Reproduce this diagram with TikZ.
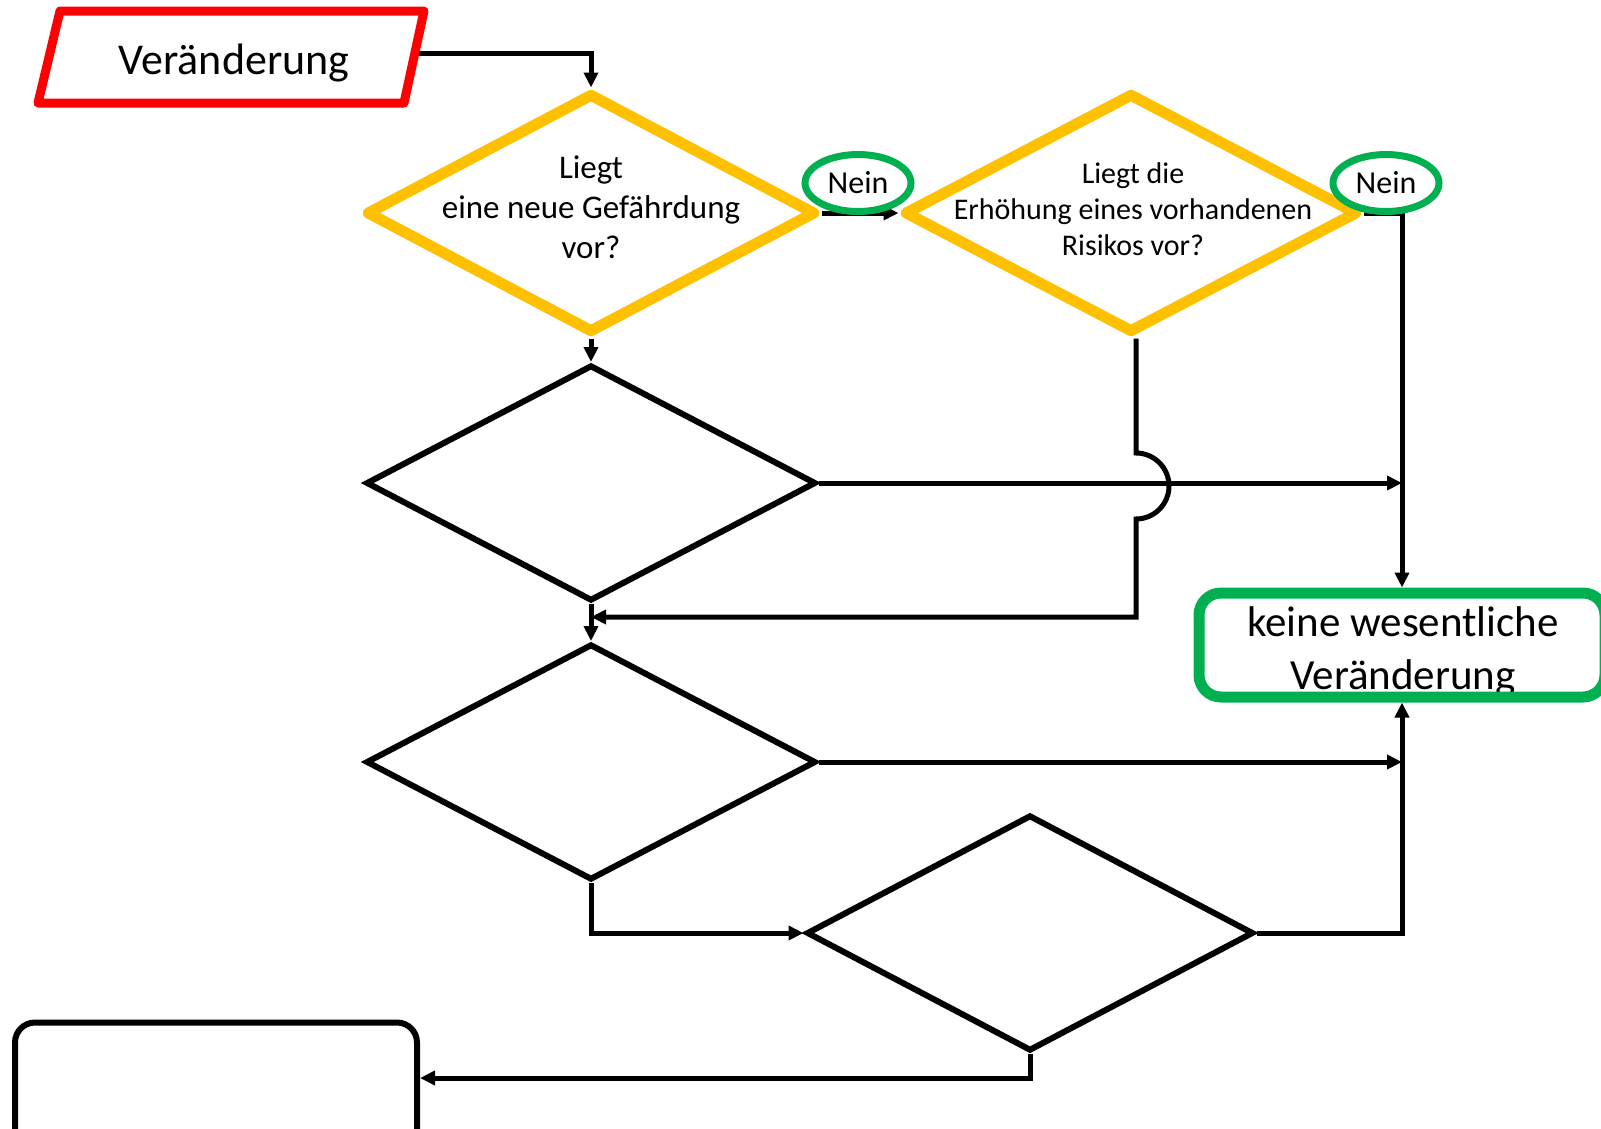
\documentclass[tikz,border=0pt]{standalone}
\usepackage{fontspec}
\setmainfont{Carlito}
\usetikzlibrary{shapes.geometric,arrows.meta}
\definecolor{myred}{RGB}{255,0,0}
\definecolor{mygold}{RGB}{255,192,0}
\definecolor{mygreen}{RGB}{0,176,80}
\begin{document}
\begin{tikzpicture}[x=1pt,y=-1pt,
  conn/.style={line width=5pt,-{Triangle[length=15pt,width=14pt]}},
  golddia/.style={diamond,draw=mygold,line width=11pt,line join=round,minimum width=450pt,minimum height=240pt,inner sep=0pt,fill=white},
  blackdia/.style={diamond,draw=black,line width=6pt,minimum width=450pt,minimum height=236pt,inner sep=0pt,fill=white},
  neinell/.style={ellipse,draw=mygreen,line width=7pt,minimum width=106pt,minimum height=57pt,inner sep=0pt,fill=white,font=\fontsize{32}{38}\selectfont},
  qtext/.style={align=center,inner sep=0pt},
]
\useasboundingbox (0,0) rectangle (1601,1128);
\clip (0,0) rectangle (1601,1128);
\fill[white] (0,0) rectangle (1601,1128);

% start parallelogram
\coordinate (p1) at (60,11);
\coordinate (p2) at (424,11);
\coordinate (p3) at (404,103);
\coordinate (p4) at (38,103);
\draw[myred,line width=9pt,line join=round] (p1) -- (p2) -- (p3) -- (p4) -- cycle;
\node[qtext,font=\fontsize{44}{52}\selectfont] (tv) at (234,63) {Veränderung};
\coordinate (pe) at (419,53);

% diamonds
\node[golddia] (d1) at (591,213) {};
\node[golddia,minimum width=454pt] (d2) at (1131,213) {};
\node[blackdia] (d3) at (591,483) {};
\node[blackdia] (d4) at (591,762) {};
\node[blackdia,minimum width=447pt] (d5) at (1030,933) {};

\node[qtext,font=\fontsize{33}{40}\selectfont] (t1) at (591,207) {Liegt\\eine neue Gefährdung\\vor?};
\node[qtext,font=\fontsize{30}{36}\selectfont] (t2) at (1133,209) {Liegt die\\Erhöhung eines vorhandenen\\Risikos vor?};

% end boxes
\node[qtext,font=\fontsize{43}{53}\selectfont] (tk) at (1403,652) {keine wesentliche\\Veränderung};
\node[draw=mygreen,line width=11pt,rounded corners=22pt,minimum width=406pt,minimum height=104pt,inner sep=0pt] (kw) at (1402,645) {};
\node[draw=black,line width=6pt,rounded corners=20pt,minimum width=402pt,minimum height=137pt,inner sep=0pt] (bl) at (216,1091) {};

% connectors
\coordinate (jt) at (1136,453);
\coordinate (m2) at (1136,617);
\coordinate (j5) at (1030,1078);
\draw[conn] (pe) -| (d1.north);
\draw[conn] (d1.east) -- (d2.west);
\draw[conn] (d2.east) -| (kw.north);
\draw[conn] (d1.south) -- (d3.north);
\draw[conn] (d3.south) -- (d4.north);
\draw[conn] (d3.east) -- (d3.east -| kw.north);
\draw[conn] (d4.east) -- (d4.east -| kw.north);
\draw[conn] (d2.south -| jt) -- (jt) arc[start angle=-90, end angle=90, radius=33] -- (m2) -- (m2 -| d3.south);
\draw[conn] (d4.south) |- (d5.west);
\draw[conn] (d5.east) -| (kw.south);
\draw[conn] (d5.south) -- (j5) -- (j5 -| bl.east);

% Nein labels
\node[neinell] (n1) at (858,183) {Nein};
\node[neinell] (n2) at (1386,183) {Nein};
\end{tikzpicture}
\end{document}
